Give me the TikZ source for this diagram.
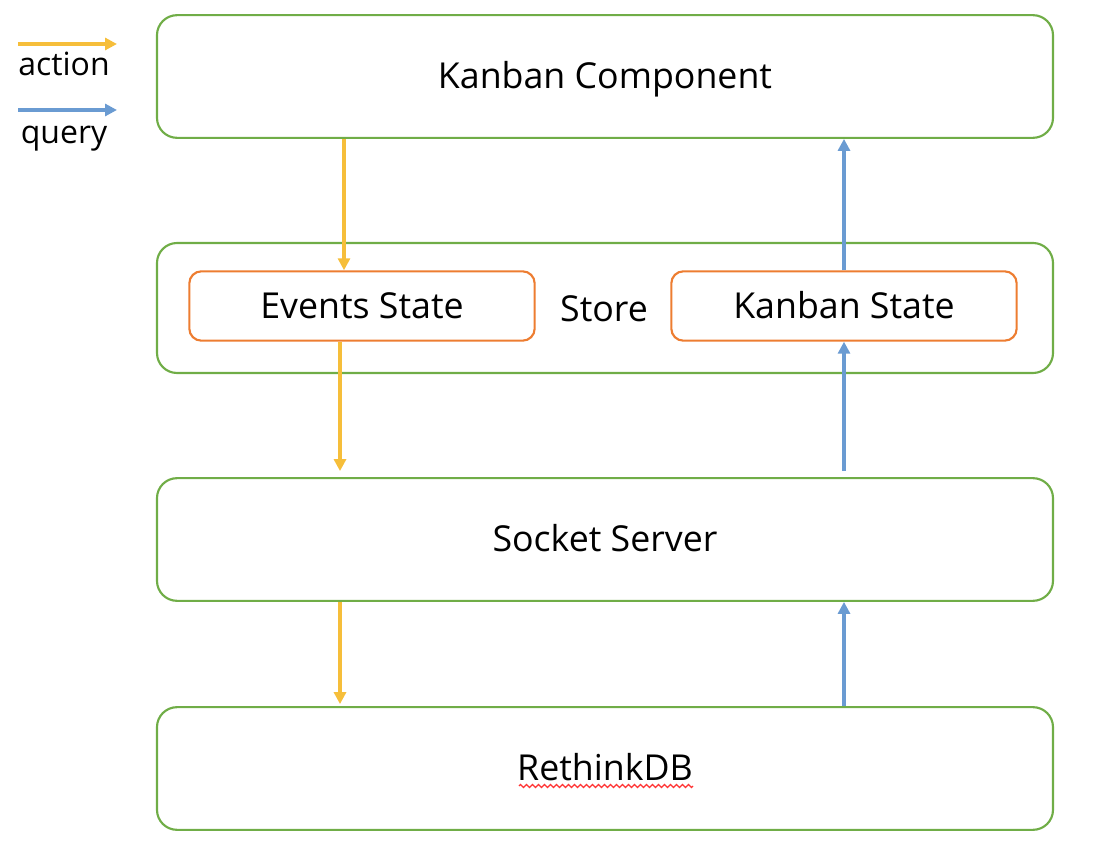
\documentclass[tikz,border=0pt]{standalone}
\usepackage{fontspec}
\setmainfont{Open Sans}
\usetikzlibrary{arrows.meta,decorations.pathmorphing}

\definecolor{boxgreen}{HTML}{70AD47}
\definecolor{boxorange}{HTML}{ED7D31}
\definecolor{actionyellow}{HTML}{F6BE3A}
\definecolor{queryblue}{HTML}{6A9BD2}

\tikzset{
  bigtext/.style={font=\fontsize{26.8}{30}\selectfont, text height=19.5pt, text depth=1pt},
  layer/.style={bigtext, draw=boxgreen, line width=1.6pt, rounded corners=15pt,
    minimum width=672pt, minimum height=92pt},
  substate/.style={bigtext, draw=boxorange, line width=1.6pt, rounded corners=9pt,
    minimum width=259pt, minimum height=52pt},
  action/.style={draw=actionyellow, line width=2.7pt, -{Triangle[length=9pt,width=9pt]}},
  query/.style={draw=queryblue, line width=2.7pt, -{Triangle[length=9pt,width=9pt]}},
  legend/.style={font=\fontsize{24}{27}\selectfont, inner sep=0pt}
}

\begin{document}
\begin{tikzpicture}[x=0.75pt, y=-0.75pt]
  % Canvas in pixels of the reference
  \useasboundingbox (0,0) rectangle (1100,848);

  % Layers, top to bottom
  \node[layer] (comp)   at (605,76.5)  {Kanban Component};
  \node[layer, minimum height=97.5pt] (store) at (605,308) {};
  \node[layer] (socket) at (605,539.5) {Socket Server};
  \node[layer] (db)     at (605,768.5) {RethinkDB};

  % The two states inside the store
  \node[substate] (events) at (362,306) {Events State};
  \node[substate] (kstate) at (844,306) {Kanban State};
  \node[bigtext] (storelbl) at (604,309) {Store};

  % Spell-check underline below RethinkDB
  \draw[red!80, line width=0.9pt, decorate,
    decoration={zigzag, amplitude=1.2pt, segment length=4.5pt}]
    (519,786) -- (693,786);

  % Where the arrows run
  \coordinate (ax1) at (344,0);
  \coordinate (ax2) at (340,0);
  \coordinate (qx)  at (844,0);

  % Actions go down
  \draw[action] (comp.south -| ax1) -- (events.north -| ax1);
  \draw[action] (events.south -| ax2) -- ([yshift=4.5pt]socket.north -| ax2);
  \draw[action] (socket.south -| ax2) -- ([yshift=1.5pt]db.north -| ax2);

  % Queries go up
  \draw[query] (kstate.north -| qx) -- (comp.south -| qx);
  \draw[query] ([yshift=4.5pt]socket.north -| qx) -- (kstate.south -| qx);
  \draw[query] (db.north -| qx) -- (socket.south -| qx);

  % Legend
  \coordinate (la0) at (18,44);
  \coordinate (la1) at (117,44);
  \coordinate (lq0) at (18,110);
  \coordinate (lq1) at (117,110);
  \draw[action] (la0) -- (la1);
  \draw[query] (lq0) -- (lq1);
  \node[legend] (lact) at (64,64)  {action};
  \node[legend] (lqry) at (64,139) {query};
\end{tikzpicture}
\end{document}
